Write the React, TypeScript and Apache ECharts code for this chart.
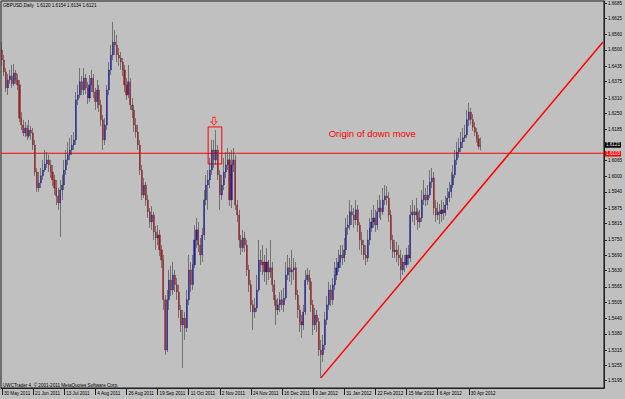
import React, { useEffect, useRef } from "react";
import * as echarts from "echarts";

const titleText = "GBPUSD,Daily  1.6120 1.6154 1.6134 1.6121";
const copyrightText = "UWCTrader 4, \u00a9 2001-2011 MetaQuotes Software Corp.";

const dateLabels = [
  "30 May 2011", "21 Jun 2011", "13 Jul 2011", "4 Aug 2011", "26 Aug 2011", "19 Sep 2011",
  "11 Oct 2011", "2 Nov 2011", "24 Nov 2011", "16 Dec 2011", "9 Jan 2012", "31 Jan 2012",
  "22 Feb 2012", "15 Mar 2012", "6 Apr 2012", "30 Apr 2012",
];
const barsPerDateLabel = 16;

const yTickLabels = [
  "1.5195", "1.5255", "1.5315", "1.5380", "1.5440", "1.5505", "1.5565", "1.5630", "1.5690",
  "1.5750", "1.5815", "1.5875", "1.5940", "1.6000", "1.6065", "1.6125", "1.6185", "1.6250",
  "1.6310", "1.6375", "1.6435", "1.6500", "1.6560", "1.6625", "1.6685",
];
// this tick label sits under the price boxes in the reference
const coveredTickLabel = "1.6125";

const firstOpen = 1.65;
const closes = [
  1.6460, 1.6413, 1.6350, 1.6381, 1.6397, 1.6366, 1.6409, 1.6381, 1.6362, 1.6231,
  1.6204, 1.6172, 1.6192, 1.6160, 1.6184, 1.6172, 1.6125, 1.6018, 1.5955, 1.5975,
  1.6003, 1.6026, 1.6050, 1.6066, 1.6046, 1.6018, 1.5987, 1.5955, 1.5924, 1.5896,
  1.5947, 1.5967, 1.6026, 1.6066, 1.6086, 1.6105, 1.6125, 1.6145, 1.6303, 1.6322,
  1.6374, 1.6342, 1.6389, 1.6350, 1.6310, 1.6362, 1.6389, 1.6334, 1.6295, 1.6342,
  1.6283, 1.6224, 1.6145, 1.6204, 1.6342, 1.6421, 1.6480, 1.6531, 1.6519, 1.6480,
  1.6468, 1.6452, 1.6421, 1.6362, 1.6322, 1.6374, 1.6283, 1.6263, 1.6204, 1.6176,
  1.6125, 1.6026, 1.5928, 1.5967, 1.5908, 1.5861, 1.5821, 1.5849, 1.5782, 1.5758,
  1.5770, 1.5711, 1.5671, 1.5514, 1.5316, 1.5514, 1.5592, 1.5553, 1.5612, 1.5573,
  1.5545, 1.5474, 1.5415, 1.5442, 1.5403, 1.5514, 1.5632, 1.5573, 1.5652, 1.5750,
  1.5790, 1.5730, 1.5691, 1.5770, 1.5908, 1.5967, 1.5987, 1.6026, 1.6105, 1.6066,
  1.6105, 1.6007, 1.5928, 1.5967, 1.6018, 1.6046, 1.6066, 1.5908, 1.6046, 1.6066,
  1.5888, 1.5849, 1.5750, 1.5719, 1.5758, 1.5730, 1.5632, 1.5573, 1.5494, 1.5466,
  1.5482, 1.5553, 1.5671, 1.5652, 1.5663, 1.5624, 1.5663, 1.5624, 1.5640, 1.5573,
  1.5514, 1.5474, 1.5494, 1.5514, 1.5494, 1.5521, 1.5612, 1.5640, 1.5624, 1.5632,
  1.5640, 1.5533, 1.5474, 1.5427, 1.5415, 1.5466, 1.5592, 1.5612, 1.5585, 1.5494,
  1.5415, 1.5454, 1.5427, 1.5316, 1.5297, 1.5336, 1.5435, 1.5494, 1.5553, 1.5514,
  1.5573, 1.5612, 1.5640, 1.5663, 1.5691, 1.5679, 1.5711, 1.5798, 1.5809, 1.5861,
  1.5849, 1.5829, 1.5869, 1.5809, 1.5750, 1.5730, 1.5691, 1.5679, 1.5750, 1.5798,
  1.5821, 1.5837, 1.5809, 1.5861, 1.5876, 1.5861, 1.5908, 1.5924, 1.5916, 1.5849,
  1.5750, 1.5703, 1.5711, 1.5691, 1.5679, 1.5632, 1.5663, 1.5652, 1.5691, 1.5679,
  1.5849, 1.5861, 1.5849, 1.5861, 1.5821, 1.5837, 1.5908, 1.5928, 1.5908, 1.5928,
  1.5979, 1.5995, 1.5876, 1.5849, 1.5861, 1.5853, 1.5869, 1.5857, 1.5888, 1.5916,
  1.5940, 1.5967, 1.6007, 1.6066, 1.6097, 1.6113, 1.6137, 1.6153, 1.6164, 1.6224,
  1.6255, 1.6225, 1.6195, 1.6175, 1.6150, 1.6120, 1.6121,
];
const highs = [
  1.6531, 1.6480, 1.6429, 1.6405, 1.6421, 1.6441, 1.6445, 1.6421, 1.6405, 1.6381,
  1.6255, 1.6224, 1.6216, 1.6204, 1.6224, 1.6200, 1.6192, 1.6145, 1.6034, 1.6018,
  1.6034, 1.6066, 1.6105, 1.6097, 1.6086, 1.6066, 1.6046, 1.6007, 1.5987, 1.5955,
  1.5987, 1.6007, 1.6066, 1.6105, 1.6137, 1.6153, 1.6164, 1.6176, 1.6334, 1.6362,
  1.6429, 1.6397, 1.6429, 1.6405, 1.6374, 1.6401, 1.6421, 1.6405, 1.6350, 1.6381,
  1.6362, 1.6303, 1.6243, 1.6231, 1.6362, 1.6452, 1.6519, 1.6610, 1.6579, 1.6559,
  1.6508, 1.6492, 1.6468, 1.6441, 1.6389, 1.6441, 1.6389, 1.6310, 1.6283, 1.6231,
  1.6204, 1.6145, 1.6046, 1.5995, 1.5979, 1.5928, 1.5876, 1.5884, 1.5861, 1.5805,
  1.5809, 1.5790, 1.5730, 1.5691, 1.5533, 1.5553, 1.5632, 1.5648, 1.5663, 1.5632,
  1.5600, 1.5573, 1.5494, 1.5474, 1.5466, 1.5553, 1.5691, 1.5663, 1.5691, 1.5809,
  1.5837, 1.5821, 1.5758, 1.5798, 1.5947, 1.6007, 1.6026, 1.6074, 1.6145, 1.6145,
  1.6184, 1.6125, 1.6026, 1.6007, 1.6074, 1.6097, 1.6113, 1.6097, 1.6105, 1.6113,
  1.6086, 1.5908, 1.5869, 1.5770, 1.5790, 1.5782, 1.5750, 1.5652, 1.5592, 1.5514,
  1.5521, 1.5612, 1.5750, 1.5711, 1.5730, 1.5691, 1.5719, 1.5671, 1.5750, 1.5663,
  1.5592, 1.5533, 1.5521, 1.5545, 1.5553, 1.5561, 1.5663, 1.5691, 1.5679, 1.5711,
  1.5679, 1.5663, 1.5553, 1.5494, 1.5454, 1.5494, 1.5632, 1.5640, 1.5632, 1.5600,
  1.5514, 1.5482, 1.5474, 1.5442, 1.5356, 1.5375, 1.5466, 1.5529, 1.5585, 1.5573,
  1.5600, 1.5663, 1.5679, 1.5711, 1.5730, 1.5730, 1.5758, 1.5837, 1.5849, 1.5908,
  1.5888, 1.5876, 1.5908, 1.5888, 1.5821, 1.5782, 1.5750, 1.5730, 1.5790, 1.5837,
  1.5869, 1.5888, 1.5869, 1.5908, 1.5928, 1.5908, 1.5955, 1.5967, 1.5963, 1.5940,
  1.5869, 1.5770, 1.5750, 1.5742, 1.5730, 1.5711, 1.5691, 1.5691, 1.5719, 1.5730,
  1.5888, 1.5908, 1.5888, 1.5916, 1.5876, 1.5869, 1.5947, 1.5987, 1.5955, 1.5967,
  1.6026, 1.6034, 1.6018, 1.5908, 1.5900, 1.5892, 1.5908, 1.5900, 1.5924, 1.5955,
  1.5979, 1.6018, 1.6046, 1.6105, 1.6137, 1.6153, 1.6176, 1.6192, 1.6204, 1.6263,
  1.6291, 1.6271, 1.6247, 1.6215, 1.6192, 1.6165, 1.6154,
];
const lows = [
  1.6437, 1.6397, 1.6334, 1.6322, 1.6366, 1.6350, 1.6358, 1.6366, 1.6342, 1.6216,
  1.6184, 1.6160, 1.6157, 1.6145, 1.6153, 1.6145, 1.6105, 1.6003, 1.5940, 1.5940,
  1.5955, 1.5987, 1.6018, 1.6034, 1.6018, 1.5995, 1.5963, 1.5928, 1.5888, 1.5869,
  1.5762, 1.5908, 1.5947, 1.6007, 1.6046, 1.6066, 1.6086, 1.6105, 1.6125, 1.6283,
  1.6310, 1.6322, 1.6322, 1.6326, 1.6287, 1.6295, 1.6334, 1.6310, 1.6263, 1.6271,
  1.6255, 1.6200, 1.6105, 1.6125, 1.6184, 1.6322, 1.6401, 1.6460, 1.6480, 1.6452,
  1.6437, 1.6421, 1.6397, 1.6334, 1.6303, 1.6310, 1.6263, 1.6231, 1.6176, 1.6153,
  1.6105, 1.6007, 1.5908, 1.5916, 1.5884, 1.5837, 1.5798, 1.5790, 1.5750, 1.5711,
  1.5730, 1.5687, 1.5640, 1.5474, 1.5297, 1.5308, 1.5474, 1.5529, 1.5533, 1.5545,
  1.5514, 1.5442, 1.5387, 1.5245, 1.5356, 1.5387, 1.5494, 1.5545, 1.5553, 1.5640,
  1.5719, 1.5703, 1.5652, 1.5663, 1.5750, 1.5888, 1.5869, 1.5955, 1.6007, 1.6034,
  1.6046, 1.5987, 1.5869, 1.5908, 1.5947, 1.5995, 1.6026, 1.5884, 1.5876, 1.6018,
  1.5869, 1.5821, 1.5719, 1.5691, 1.5703, 1.5703, 1.5608, 1.5545, 1.5466, 1.5395,
  1.5442, 1.5466, 1.5545, 1.5624, 1.5612, 1.5585, 1.5573, 1.5592, 1.5600, 1.5545,
  1.5490, 1.5415, 1.5454, 1.5466, 1.5474, 1.5466, 1.5514, 1.5592, 1.5585, 1.5573,
  1.5592, 1.5514, 1.5442, 1.5387, 1.5364, 1.5395, 1.5454, 1.5573, 1.5553, 1.5466,
  1.5375, 1.5395, 1.5387, 1.5293, 1.5206, 1.5269, 1.5316, 1.5415, 1.5474, 1.5490,
  1.5494, 1.5553, 1.5592, 1.5624, 1.5640, 1.5652, 1.5663, 1.5691, 1.5770, 1.5790,
  1.5809, 1.5798, 1.5809, 1.5782, 1.5711, 1.5691, 1.5671, 1.5652, 1.5663, 1.5730,
  1.5782, 1.5798, 1.5782, 1.5790, 1.5837, 1.5829, 1.5849, 1.5888, 1.5888, 1.5821,
  1.5713, 1.5679, 1.5679, 1.5663, 1.5648, 1.5592, 1.5612, 1.5624, 1.5640, 1.5652,
  1.5663, 1.5821, 1.5809, 1.5829, 1.5790, 1.5798, 1.5821, 1.5888, 1.5884, 1.5888,
  1.5916, 1.5955, 1.5849, 1.5821, 1.5829, 1.5813, 1.5821, 1.5829, 1.5845, 1.5869,
  1.5900, 1.5916, 1.5955, 1.5995, 1.6046, 1.6074, 1.6097, 1.6113, 1.6137, 1.6153,
  1.6200, 1.6205, 1.6180, 1.6160, 1.6135, 1.6108, 1.6104,
];

// chart window extends beyond the last bar (chart shift)
const totalSlots = 310;
const yMin = 1.5166;
const yMax = 1.6693;

// annotations (data coordinates)
const trendStartIndex = 164;
const trendEndPrice = 1.6531;
const levelPrice = 1.6092;
const levelHalfThickness = 0.0002;
const levelText = "1.6103";
const boxStartIndex = 106;
const boxEndIndex = 113;
const boxTopPrice = 1.6196;
const boxBottomPrice = 1.605;
const arrowIndex = 109;
const arrowPrice = 1.6218;
const noteIndex = 168;
const notePrice = 1.6172;
const noteText = "Origin of down move";

const FONT = "'Liberation Sans', Arial, sans-serif";
const BG = "#c0c0c0";
const AXIS = "#1e1e1e";
const WICK = "#3c3c3c";
const BULL = "#1e1e96";
const BEAR = "#961e1e";
const RED = "#ff0000";

export default function App() {
  const ref = useRef<HTMLDivElement>(null);

  useEffect(() => {
    if (!ref.current) return;
    const chart = echarts.init(ref.current, undefined, { renderer: "svg" });

    const categories = Array.from({ length: totalSlots }, (_, i) => String(i));
    const opens = closes.map((_, i) => (i === 0 ? firstOpen : closes[i - 1]));
    const wickData = closes.map((c, i) => [opens[i], c, lows[i], highs[i]]);
    const bodyData = closes.map((c, i) => [opens[i], c, Math.min(opens[i], c), Math.max(opens[i], c)]);
    const lastClose = closes[closes.length - 1];
    const tickValues = yTickLabels.map((s) => Number(s));
    const labelValues = yTickLabels.filter((s) => s !== coveredTickLabel).map((s) => Number(s));
    const lastSlot = String(totalSlots - 1);
    const dateTick = (index: number) =>
      index % barsPerDateLabel === 0 && index / barsPerDateLabel < dateLabels.length;

    const priceBox = (bg: string, text: string) => ({
      show: true,
      formatter: text,
      backgroundColor: bg,
      color: "#ffffff",
      fontSize: 4.6,
      lineHeight: 5,
      fontFamily: FONT,
      padding: [0.5, 1, 0, 1],
      position: "right",
      distance: 2,
    });

    chart.setOption({
      animation: false,
      backgroundColor: BG,
      grid: {
        left: 1,
        right: 19,
        top: 1,
        bottom: 11,
        show: true,
        borderColor: AXIS,
        borderWidth: 1,
        backgroundColor: "transparent",
      },
      xAxis: {
        type: "category",
        data: categories,
        boundaryGap: true,
        axisLine: { show: true, onZero: false, lineStyle: { color: AXIS, width: 1 } },
        axisTick: {
          show: true,
          interval: dateTick,
          alignWithLabel: true,
          length: 7,
          lineStyle: { color: AXIS, width: 1 },
        },
        axisLabel: {
          show: true,
          interval: dateTick,
          formatter: (v: string) => dateLabels[Number(v) / barsPerDateLabel],
          align: "left",
          fontSize: 4.6,
          fontFamily: FONT,
          color: "#000",
          margin: 3,
          padding: [0, 0, 0, 2],
        },
        splitLine: { show: false },
      },
      yAxis: {
        type: "value",
        position: "right",
        min: yMin,
        max: yMax,
        scale: true,
        axisLine: { show: true, onZero: false, lineStyle: { color: AXIS, width: 1 } },
        axisTick: { show: true, customValues: tickValues, length: 3, lineStyle: { color: AXIS } },
        axisLabel: {
          customValues: labelValues,
          formatter: (v: number) => v.toFixed(4),
          fontSize: 4.6,
          fontFamily: FONT,
          color: "#000",
          margin: 4,
        },
        splitLine: { show: false },
      },
      series: [
        {
          name: "wicks",
          type: "candlestick",
          data: wickData,
          barWidth: 1,
          silent: true,
          itemStyle: {
            color: WICK,
            color0: WICK,
            borderColor: WICK,
            borderColor0: WICK,
            borderWidth: 0.6,
          },
        },
        {
          name: "GBPUSD",
          type: "candlestick",
          data: bodyData,
          barWidth: 1.6,
          silent: true,
          itemStyle: {
            color: BULL,
            color0: BEAR,
            borderColor: BULL,
            borderColor0: BEAR,
            borderWidth: 0.3,
          },
        },
        {
          name: "annotations",
          type: "line",
          data: [],
          silent: true,
          z: 5,
          symbol: "none",
          color: RED,
          markLine: {
            silent: true,
            symbol: ["none", "none"],
            animation: false,
            lineStyle: { color: RED, width: 1.5, type: "solid", opacity: 1 },
            label: { show: false },
            data: [
              [
                { coord: [String(trendStartIndex), lows[trendStartIndex]] },
                { coord: [lastSlot, trendEndPrice] },
              ],
            ],
          },
          markArea: {
            silent: true,
            label: { show: false },
            data: [
              [
                {
                  xAxis: String(boxStartIndex),
                  yAxis: boxTopPrice,
                  itemStyle: { color: "rgba(0,0,0,0)", borderColor: RED, borderWidth: 1 },
                },
                { xAxis: String(boxEndIndex), yAxis: boxBottomPrice },
              ],
              [
                {
                  yAxis: levelPrice + levelHalfThickness,
                  itemStyle: { color: RED, borderWidth: 0 },
                },
                { yAxis: levelPrice - levelHalfThickness },
              ],
            ],
          },
          markPoint: {
            silent: true,
            animation: false,
            data: [
              {
                coord: [String(arrowIndex), arrowPrice],
                symbol: "path://M3,0L7,0L7,6L10,6L5,11L0,6L3,6Z",
                symbolSize: [6, 8],
                itemStyle: { color: "rgba(0,0,0,0)", borderColor: "#ff3030", borderWidth: 0.9 },
                label: { show: false },
              },
              {
                coord: [String(noteIndex), notePrice],
                symbol: "circle",
                symbolSize: 0,
                itemStyle: { color: "rgba(0,0,0,0)" },
                label: {
                  show: true,
                  position: "right",
                  distance: 0,
                  formatter: noteText,
                  color: RED,
                  fontSize: 9.5,
                  fontFamily: FONT,
                },
              },
              {
                coord: [lastSlot, lastClose],
                symbol: "circle",
                symbolSize: 0,
                itemStyle: { color: "rgba(0,0,0,0)" },
                label: { ...priceBox("#000000", lastClose.toFixed(4)), offset: [0, -1] },
              },
              {
                coord: [lastSlot, levelPrice],
                symbol: "circle",
                symbolSize: 0,
                itemStyle: { color: "rgba(0,0,0,0)" },
                label: { ...priceBox(RED, levelText), offset: [0, 0.5] },
              },
            ],
          },
        },
      ],
      graphic: [
        {
          type: "text",
          left: 3,
          top: 3,
          silent: true,
          style: { text: titleText, fontSize: 4.6, fontFamily: FONT, fill: "#000" },
        },
        {
          type: "text",
          left: 3,
          top: 383,
          silent: true,
          style: { text: copyrightText, fontSize: 4.6, fontFamily: FONT, fill: "#000" },
        },
      ],
    });

    return () => chart.dispose();
  }, []);

  return (
    <div
      ref={ref}
      style={{ position: "fixed", left: 0, top: 0, width: 625, height: 399, background: BG }}
    />
  );
}
